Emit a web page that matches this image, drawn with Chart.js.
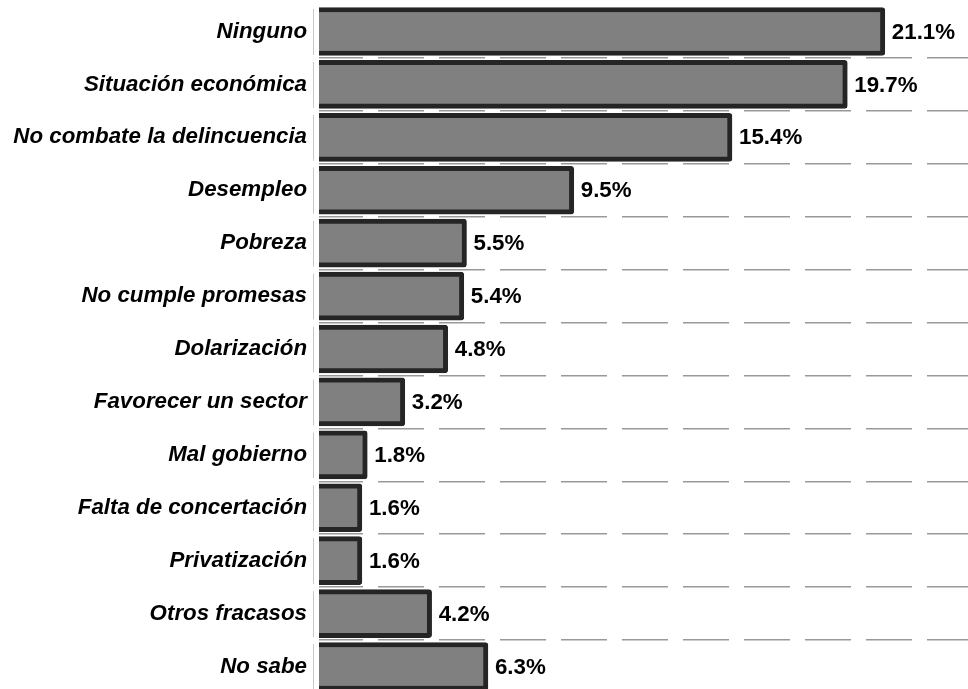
<!DOCTYPE html>
<html>
<head>
<meta charset="utf-8">
<script src="https://cdn.jsdelivr.net/npm/chart.js@4"></script>
<style>
  html, body { margin: 0; padding: 0; background: #fff; overflow: hidden; }
  #wrap { width: 968px; height: 700px; }
</style>
</head>
<body>
<div id="wrap"><canvas id="chart" width="968" height="700"></canvas></div>
<script>
const categories = [
  "Ninguno",
  "Situación económica",
  "No combate la delincuencia",
  "Desempleo",
  "Pobreza",
  "No cumple promesas",
  "Dolarización",
  "Favorecer un sector",
  "Mal gobierno",
  "Falta de concertación",
  "Privatización",
  "Otros fracasos",
  "No sabe"
];
const values = [21.1, 19.7, 15.4, 9.5, 5.5, 5.4, 4.8, 3.2, 1.8, 1.6, 1.6, 4.2, 6.3];

const fontFamily = "'Liberation Sans', Arial, sans-serif";

// etiquetas de valor al final de cada barra
const valueLabels = {
  id: "valueLabels",
  afterDatasetsDraw(chart) {
    const ctx = chart.ctx;
    const meta = chart.getDatasetMeta(0);
    ctx.save();
    ctx.font = "bold 22.3px " + fontFamily;
    ctx.fillStyle = "#000";
    ctx.textAlign = "left";
    ctx.textBaseline = "middle";
    meta.data.forEach((bar, i) => {
      ctx.fillText(values[i].toFixed(1) + "%", bar.x + 7, bar.y + 1);
    });
    ctx.restore();
  }
};

// linea del eje vertical, cortada en cada categoria
const axisLine = {
  id: "axisLine",
  beforeDatasetsDraw(chart) {
    const ctx = chart.ctx;
    const y = chart.scales.y;
    const x = chart.chartArea.left - 6;
    const step = (y.bottom - y.top) / categories.length;
    ctx.save();
    ctx.strokeStyle = "#c8c8c8";
    ctx.lineWidth = 1;
    categories.forEach((c, i) => {
      const top = y.getPixelForValue(i) - step / 2;
      ctx.beginPath();
      ctx.moveTo(x + 0.5, top + 4);
      ctx.lineTo(x + 0.5, top + step - 3);
      ctx.stroke();
    });
    ctx.restore();
  }
};

new Chart(document.getElementById("chart"), {
  type: "bar",
  data: {
    labels: categories,
    datasets: [{
      data: values,
      backgroundColor: "#808080",
      borderColor: "#252525",
      borderWidth: 5,
      borderRadius: 3,
      barThickness: 48
    }]
  },
  options: {
    indexAxis: "y",
    responsive: false,
    animation: false,
    layout: { padding: { top: 5, bottom: 7, left: 0, right: 0 } },
    plugins: {
      legend: { display: false },
      tooltip: { enabled: false }
    },
    scales: {
      x: {
        display: false,
        min: 0,
        max: 24.2
      },
      y: {
        afterFit(scale) {
          scale.width = 319;
          scale.paddingTop = 0;
          scale.paddingBottom = 0;
        },
        border: { display: false, dash: [46, 15], dashOffset: 2 },
        grid: {
          drawTicks: false,
          offset: true,
          lineWidth: 1.5,
          color: (c) => (c.index === 0 ? "rgba(0,0,0,0)" : "#999999")
        },
        ticks: {
          padding: 12,
          color: "#000",
          font: { family: fontFamily, size: 22.3, weight: "bold", style: "italic" }
        }
      }
    }
  },
  plugins: [valueLabels, axisLine]
});
</script>
</body>
</html>
